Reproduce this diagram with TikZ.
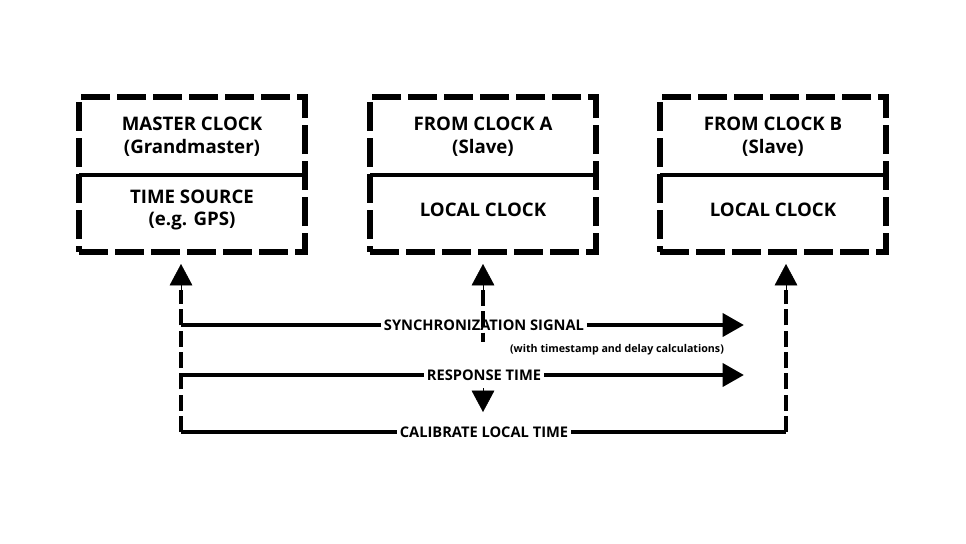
\documentclass[tikz,border=0pt]{standalone}
\usepackage{fontspec}
\setmainfont{Open Sans}
\usetikzlibrary{arrows.meta}
\begin{document}
\begin{tikzpicture}[x=0.75pt,y=-0.75pt,
  box/.style={draw,line width=4.5pt,dash pattern=on 22pt off 5pt,minimum width=226*0.75pt,minimum height=155*0.75pt,inner sep=0},
  div/.style={line width=3pt},
  big/.style={font=\bfseries\fontsize{14}{17}\selectfont,align=center},
  lab/.style={font=\bfseries\fontsize{11}{13}\selectfont,inner sep=2pt},
  conn/.style={line width=3.5pt},
  dconn/.style={line width=3.5pt,dash pattern=on 12pt off 4pt},
  tip/.style={-{Triangle[length=16pt,width=17pt]}}]
\useasboundingbox (0,0) rectangle (966,543);
% boxes
\foreach \n/\x in {A/192,B/483,C/773}{
  \node[box] (\n) at (\x,174.5) {};
  \draw[div] (\x-113,175) -- (\x+113,175);
}
\node[big] (a1) at (192,137) {MASTER CLOCK\\(Grandmaster)};
\node[big] (a2) at (192,210) {TIME SOURCE\\(e.g. GPS)};
\node[big] (b1) at (483,137) {FROM CLOCK A\\(Slave)};
\node[big] (b2) at (483,210) {LOCAL CLOCK};
\node[big] (c1) at (773,137) {FROM CLOCK B\\(Slave)};
\node[big] (c2) at (773,210) {LOCAL CLOCK};
% coordinates
\coordinate (L0) at (181,432); \coordinate (Ltop) at (181,264);
\coordinate (R0) at (786,432); \coordinate (Rtop) at (786,264);
\coordinate (Mtop) at (483,264); \coordinate (Mbot) at (483,412);
% labels
\node[lab] (sync) at (484,325) {SYNCHRONIZATION SIGNAL};
\node[lab,font=\bfseries\fontsize{8}{10}\selectfont] (note) at (617,350) {(with timestamp and delay calculations)};
\node[lab] (resp) at (484,375) {RESPONSE TIME};
\node[lab] (cal) at (484,432) {CALIBRATE LOCAL TIME};
% verticals
\draw[dconn] (L0) -- (181,290);
\draw[tip] (181,292) -- (Ltop);
\draw[dconn] (R0) -- (786,290);
\draw[tip] (786,292) -- (Rtop);
\draw[dconn] (483,290) -- (483,342);
\draw[tip] (483,292) -- (Mtop);
\draw[tip] (483,388) -- (Mbot);
% horizontals
\draw[conn] (181,325) -- (sync.west);
\draw[conn,tip] (sync.east) -- (744,325);
\draw[conn] (181,375) -- (resp.west);
\draw[conn,tip] (resp.east) -- (744,375);
\draw[conn] (L0) -- (cal.west);
\draw[conn] (cal.east) -- (R0);
\end{tikzpicture}
\end{document}
